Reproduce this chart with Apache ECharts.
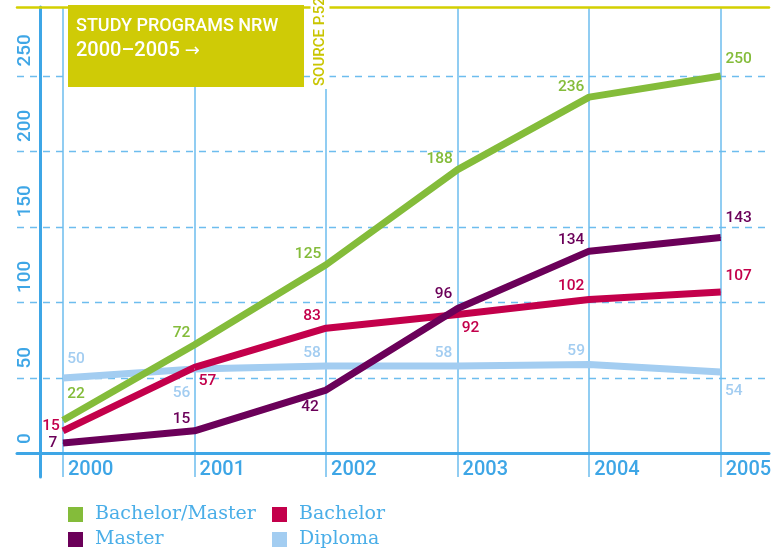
<!DOCTYPE html>
<html>
<head>
<meta charset="utf-8">
<script src="https://cdn.jsdelivr.net/npm/echarts@6/dist/echarts.min.js"></script>
<style>
  html, body { margin: 0; padding: 0; background: #fff; }
  #chart { width: 782px; height: 552px; }
</style>
</head>
<body>
<div id="chart"></div>
<script>
// data
var years = ['2000', '2001', '2002', '2003', '2004', '2005'];
var bachelorMaster = [22, 72, 125, 188, 236, 250];
var bachelor = [15, 57, 83, 92, 102, 107];
var master = [7, 15, 42, 96, 134, 143];
var diploma = [50, 56, 58, 58, 59, 54];
var yTicks = [0, 50, 100, 150, 200, 250];

// where each value label sits, relative to its point (px)
var offBM = [[13, -26], [-13, -12], [-18, -11], [-18, -10], [-18, -10], [18, -17]];
var offBa = [[-12, -5], [13, 14], [-14, -12], [13, 14], [-18, -13], [18, -16]];
var offMa = [[-10, 0], [-13, -12], [-16, 17], [-14, -14], [-18, -11], [18, -19]];
var offDi = [[13, -19], [-13, 24], [-14, -13], [-14, -13], [-13, -13], [13, 19]];

var C_GREEN = '#84bc3a', C_RED = '#c3004b', C_PURPLE = '#6b0059', C_LIGHT = '#a3cdf1';
var C_AXIS = '#3ea6e6', C_GRID = '#6dbdee', C_YELLOW = '#cfcb06';

function withLabels(values, offsets) {
  return values.map(function (v, i) {
    return { value: v, label: { offset: offsets[i] } };
  });
}

function lineSeries(name, values, offsets, color) {
  return {
    name: name,
    type: 'line',
    xAxisIndex: 2,
    yAxisIndex: 1,
    data: withLabels(values, offsets),
    color: color,
    symbol: 'circle',
    symbolSize: 1,
    showSymbol: true,
    lineStyle: { width: 7, color: color, cap: 'butt', join: 'round' },
    itemStyle: { color: color },
    label: {
      show: true,
      position: 'inside',
      color: color,
      fontFamily: 'Roboto',
      fontWeight: 500,
      fontSize: 15.5
    },
    emphasis: { disabled: true }
  };
}

function legendFor(name, left, top) {
  return {
    data: [name],
    left: left, top: top, padding: 0,
    icon: 'rect', itemWidth: 15, itemHeight: 15,
    selectedMode: false,
    textStyle: { fontFamily: 'DejaVu Serif', fontSize: 19, color: '#4aaee8', lineHeight: 15, padding: [0, 0, 0, 7] }
  };
}

var chart = echarts.init(document.getElementById('chart'));

// pixel scale: 50 units = 75.5px, zero at y=453.5
var frameMax = (453.5 - 7) / 75.5 * 50;
var dataMin = -(477 - 453.5) / 75.5 * 50;

chart.setOption({
  animation: false,
  grid: [
    { left: 17, right: 13, top: 7, bottom: 98.5 },
    { left: 63, right: 61.3, top: 7, bottom: 75 }
  ],
  xAxis: [
    {
      gridIndex: 0, type: 'value', min: 0, max: 1, position: 'bottom',
      axisLine: { show: true, lineStyle: { color: C_AXIS, width: 3 } },
      axisTick: { show: false }, axisLabel: { show: false }, splitLine: { show: false }
    },
    {
      gridIndex: 0, type: 'value', min: 0, max: 1, position: 'top',
      axisLine: { show: true, lineStyle: { color: '#d3d000', width: 2.5 } },
      axisTick: { show: false }, axisLabel: { show: false }, splitLine: { show: false }
    },
    {
      gridIndex: 1, type: 'category', data: years, boundaryGap: false,
      axisLine: { show: false }, axisTick: { show: false },
      axisLabel: {
        color: C_AXIS, fontFamily: 'Roboto', fontWeight: 500, fontSize: 20,
        align: 'left', verticalAlign: 'middle', margin: -7, padding: [0, 0, 0, 5]
      },
      splitLine: { show: true, lineStyle: { color: C_GRID, width: 1.5 } }
    }
  ],
  yAxis: [
    {
      gridIndex: 0, type: 'value', min: 0, max: frameMax, interval: 50,
      axisLine: { show: false }, axisTick: { show: false },
      axisLabel: {
        inside: true, rotate: 90, margin: 8,
        align: 'left', verticalAlign: 'middle',
        color: C_AXIS, fontFamily: 'Roboto', fontWeight: 500, fontSize: 19,
        showMaxLabel: false,
        formatter: function (v) { return yTicks.indexOf(v) >= 0 ? '\u00a0\u00a0' + v : ''; }
      },
      splitLine: {
        show: true, showMinLine: false, showMaxLine: false,
        lineStyle: { color: C_GRID, width: 1.3, type: [7, 6] }
      }
    },
    {
      gridIndex: 1, type: 'value', min: dataMin, max: frameMax,
      position: 'left', offset: 23,
      axisLine: { show: true, lineStyle: { color: C_AXIS, width: 3 } },
      axisTick: { show: false }, axisLabel: { show: false }, splitLine: { show: false }
    }
  ],
  legend: [
    legendFor('Bachelor/Master', 68, 505),
    legendFor('Master', 68, 530),
    legendFor('Bachelor', 272, 505),
    legendFor('Diploma', 272, 530)
  ],
  graphic: [
    { type: 'rect', z: 10, shape: { x: 68, y: 5, width: 236, height: 82 }, style: { fill: C_YELLOW } },
    { type: 'text', z: 11, x: 76, y: 17, style: { text: 'STUDY PROGRAMS NRW', fill: '#fff', font: '500 18px Roboto' } },
    {
      type: 'text', z: 11, x: 76, y: 41,
      style: {
        text: '{a|2000\u20132005 }{b|\u2192}', fill: '#fff',
        rich: {
          a: { fill: '#fff', font: '500 20px Roboto' },
          b: { fill: '#fff', font: '18px "DejaVu Sans"' }
        }
      }
    },
    {
      type: 'text', z: 11, x: 320, y: 89, rotation: Math.PI / 2,
      style: {
        text: 'SOURCE P.52', fill: '#c9c500', font: '500 15px Roboto',
        align: 'left', verticalAlign: 'middle', backgroundColor: '#fff', padding: [2, 3]
      }
    }
  ],
  series: [
    lineSeries('Diploma', diploma, offDi, C_LIGHT),
    lineSeries('Bachelor', bachelor, offBa, C_RED),
    lineSeries('Master', master, offMa, C_PURPLE),
    lineSeries('Bachelor/Master', bachelorMaster, offBM, C_GREEN)
  ]
});
</script>
</body>
</html>
